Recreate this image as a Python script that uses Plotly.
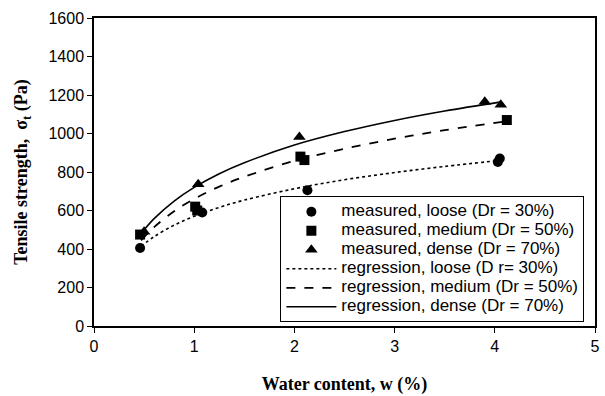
import plotly.graph_objects as go

# measured data (water content %, tensile strength Pa)
loose_w = [0.46, 1.08, 2.13, 4.03, 4.05]
loose_s = [405, 590, 705, 852, 870]
medium_w = [0.46, 1.01, 1.03, 2.06, 2.10, 4.12]
medium_s = [475, 620, 600, 880, 862, 1070]
dense_w = [0.50, 1.04, 2.05, 3.90, 4.06]
dense_s = [490, 736, 982, 1165, 1150]

# regression curves
reg_w = [0.47, 0.6, 0.8, 1.0, 1.25, 1.5, 2.0, 2.5, 3.0, 3.5, 4.05]
reg_loose = [414, 464, 524, 570, 616, 654, 713, 760, 797, 829, 860]
reg_medium_w = [0.47, 0.6, 0.8, 1.0, 1.25, 1.5, 2.0, 2.5, 3.0, 3.5, 4.12]
reg_medium = [445, 514, 596, 660, 724, 775, 858, 921, 973, 1017, 1064]
reg_dense = [481, 558, 649, 720, 791, 848, 940, 1010, 1068, 1117, 1163]

x_ticks = [0, 1, 2, 3, 4, 5]
y_ticks = [0, 200, 400, 600, 800, 1000, 1200, 1400, 1600]

names = ["measured, loose (Dr = 30%)", "measured, medium (Dr = 50%)", "measured, dense (Dr = 70%)",
         "regression, loose (D r= 30%)", "regression, medium (Dr = 50%)", "regression, dense (Dr = 70%)"]


def lg(t):
    return '<span style="font-size:17px">' + t + '</span>'


fig = go.Figure()
fig.add_trace(go.Scatter(x=loose_w, y=loose_s, mode="markers", name=lg(names[0]),
                         marker=dict(symbol="circle", size=10, color="black")))
fig.add_trace(go.Scatter(x=medium_w, y=medium_s, mode="markers", name=lg(names[1]),
                         marker=dict(symbol="square", size=10, color="black")))
fig.add_trace(go.Scatter(x=dense_w, y=dense_s, mode="markers", name=lg(names[2]),
                         marker=dict(symbol="triangle-up", size=11, color="black")))
fig.add_trace(go.Scatter(x=reg_w, y=reg_loose, mode="lines", name=lg(names[3]),
                         line=dict(color="black", width=1.6, dash="dot", shape="spline")))
fig.add_trace(go.Scatter(x=reg_medium_w, y=reg_medium, mode="lines", name=lg(names[4]),
                         line=dict(color="black", width=1.8, dash="dash", shape="spline")))
fig.add_trace(go.Scatter(x=reg_w, y=reg_dense, mode="lines", name=lg(names[5]),
                         line=dict(color="black", width=1.6, shape="spline")))

axis_common = dict(showgrid=False, zeroline=False, showline=True, linecolor="black", linewidth=1.5,
                   mirror=True, ticks="outside", ticklen=5, tickcolor="black",
                   tickfont=dict(family="Arial, Liberation Sans", size=16, color="black"))

fig.update_xaxes(range=[0, 5], tickvals=x_ticks,
                 title=dict(text="<b>Water content, w (%)</b>",
                            font=dict(family="Liberation Serif, Times New Roman", size=18, color="black"),
                            standoff=23),
                 **axis_common)
fig.update_yaxes(range=[0, 1600], tickvals=y_ticks,
                 title=dict(text="<b>Tensile strength,  σ<sub>t</sub> (Pa)</b>",
                            font=dict(family="Liberation Serif, Times New Roman", size=18, color="black"),
                            standoff=16),
                 **axis_common)

fig.update_layout(
    width=605, height=396,
    margin=dict(l=94, r=5, t=18, b=69),
    paper_bgcolor="white", plot_bgcolor="white",
    showlegend=True,
    legend=dict(x=0.372, y=0.012, xanchor="left", yanchor="bottom",
                bgcolor="white", bordercolor="black", borderwidth=1,
                itemwidth=50, tracegroupgap=0,
                font=dict(family="Arial, Liberation Sans", size=10, color="black")),
)

fig.write_html("out.html")
